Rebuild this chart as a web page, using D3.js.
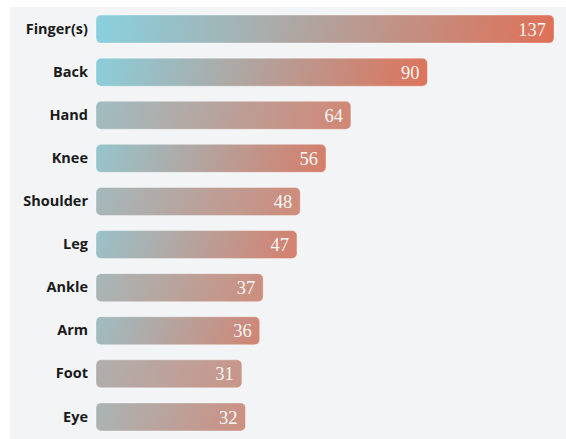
<!DOCTYPE html>
<html><head><meta charset="utf-8">
<script src="https://cdn.jsdelivr.net/npm/d3@7/dist/d3.min.js"></script>
<style>
html,body{margin:0;padding:0;background:#fff;}
svg{display:block;}
</style></head>
<body>
<svg id="chart" width="566" height="439"></svg>
<script>
const categories = ["Finger(s)","Back","Hand","Knee","Shoulder","Leg","Ankle","Arm","Foot","Eye"];
const values = [137,90,64,56,48,47,37,36,31,32];
const severity = [1.0,0.95,0.45,0.7,0.35,0.62,0.3,0.52,0.08,0.25];

const W = 566, H = 439;
const svg = d3.select("#chart");

svg.append("rect").attr("x",10).attr("y",7).attr("width",W-10).attr("height",H-7).attr("fill","#f3f4f6");

const y = d3.scaleBand().domain(categories).range([0,446]).paddingInner(0.35).paddingOuter(0.35);
const x = d3.scalePow().exponent(0.77).domain([0,137]).range([96,554]);

const startCol = d3.scaleLinear().domain([0,1]).range(["#b1aeac","#88d1df"]).interpolate(d3.interpolateRgb);
const endCol = d3.scaleLinear().domain([0,1]).range(["#c9968a","#df7056"]).interpolate(d3.interpolateRgb);

const data = categories.map((c,i)=>({c, v:values[i], i}));

const defs = svg.append("defs");
data.forEach(d=>{
  const x0 = x(0), x1 = x(d.v), y0 = y(d.c), y1 = y0 + y.bandwidth();
  const g = defs.append("linearGradient").attr("id","g"+d.i)
    .attr("gradientUnits","userSpaceOnUse")
    .attr("x1",x0).attr("y1",y0 - 20).attr("x2",x1).attr("y2",y1 + 20);
  g.append("stop").attr("offset","0%").attr("stop-color",startCol(severity[d.i]));
  g.append("stop").attr("offset","100%").attr("stop-color",endCol(severity[d.i]));
});

svg.append("g").selectAll("rect").data(data).join("rect")
  .attr("x",x(0)).attr("y",d=>y(d.c))
  .attr("width",d=>x(d.v)-x(0)).attr("height",y.bandwidth())
  .attr("rx",5).attr("ry",5)
  .attr("fill",d=>`url(#g${d.i})`)
  .attr("stroke","rgba(255,255,255,0.35)").attr("stroke-width",1);

svg.append("g").selectAll("text").data(data).join("text")
  .attr("x",d=>x(d.v)-8).attr("y",d=>y(d.c)+y.bandwidth()/2)
  .attr("dy","0.36em").attr("text-anchor","end")
  .attr("font-family","'Liberation Serif', serif").attr("font-size",18.5)
  .attr("fill","#ffffff").attr("fill-opacity",0.95)
  .text(d=>d.v);

const yAxis = d3.axisLeft(y).tickSize(0).tickPadding(8);
const ag = svg.append("g").attr("transform",`translate(${x(0)},0)`).call(yAxis);
ag.select(".domain").remove();
ag.selectAll("text").attr("font-family","'Open Sans', sans-serif").attr("font-weight",700)
  .attr("font-size",14.5).attr("fill","#1a1a1a");
</script>
</body></html>
